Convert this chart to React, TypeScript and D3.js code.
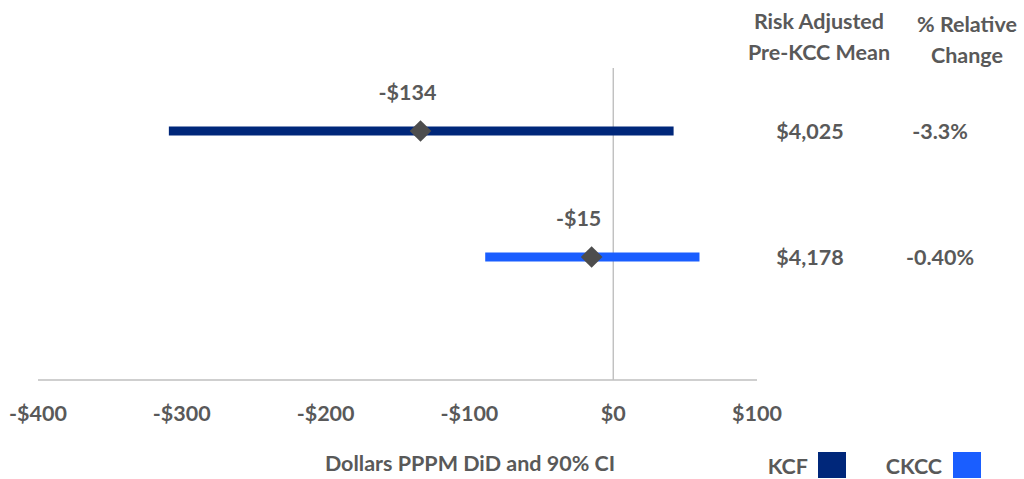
import React from "react";
import * as d3 from "d3";

const groups = ["KCF", "CKCC"];
const estimates = [-134, -15];
const lowerCI = [-309, -89];
const upperCI = [42, 60];
const preMeans = ["$4,025", "$4,178"];
const relChanges = ["-3.3%", "-0.40%"];
const groupColors = ["#00277a", "#1a5eff"];
const xTicks = [-400, -300, -200, -100, 0, 100];

const W = 1024;
const H = 479;
const FONT = "Lato, 'Open Sans', sans-serif";
const TEXT = "#595959";
const FS = 21.5;

const fmtDollar = (v: number) => (v < 0 ? "-$" : "$") + d3.format(",")(Math.abs(v));

export default function App() {
  const x = d3.scaleLinear().domain([-400, 100]).range([38, 757]);
  const y = d3.scalePoint<string>().domain(groups).range([131, 257]);
  const axisY = 380;
  const diamond = d3.symbol().type(d3.symbolDiamond2).size(300)();

  return (
    <svg
      width={W}
      height={H}
      style={{ position: "absolute", left: 0, top: 0, background: "#fff", display: "block" }}
      fontFamily={FONT}
      fontWeight="bold"
    >
      {/* zero reference line */}
      <line x1={x(0)} x2={x(0)} y1={68} y2={axisY} stroke="#a6a6a6" strokeWidth={1} />
      {/* horizontal axis */}
      <line x1={x(-400)} x2={x(100)} y1={axisY} y2={axisY} stroke="#bfbfbf" strokeWidth={1.5} />
      {xTicks.map((t) => (
        <text key={t} x={x(t)} y={421} textAnchor="middle" fontSize={FS} fill={TEXT}>
          {fmtDollar(t)}
        </text>
      ))}
      <text x={470} y={471} textAnchor="middle" fontSize={FS} fill={TEXT}>
        Dollars PPPM DiD and 90% CI
      </text>

      {/* confidence intervals and point estimates */}
      {groups.map((g, i) => {
        const cy = y(g) as number;
        return (
          <g key={g}>
            <rect
              x={x(lowerCI[i])}
              y={cy - 4.5}
              width={x(upperCI[i]) - x(lowerCI[i])}
              height={9}
              fill={groupColors[i]}
            />
            <path d={diamond as string} transform={`translate(${x(estimates[i])},${cy})`} fill="#4d4d4d" />
            <text x={x(estimates[i]) - 13} y={cy - 31} textAnchor="middle" fontSize={FS} fill={TEXT}>
              {fmtDollar(estimates[i])}
            </text>
            <text x={810} y={cy + 8} textAnchor="middle" fontSize={FS} fill={TEXT}>
              {preMeans[i]}
            </text>
            <text x={940} y={cy + 8} textAnchor="middle" fontSize={FS} fill={TEXT}>
              {relChanges[i]}
            </text>
          </g>
        );
      })}

      {/* table column headers */}
      <text x={819} y={29} textAnchor="middle" fontSize={FS} fill={TEXT}>Risk Adjusted</text>
      <text x={819} y={60} textAnchor="middle" fontSize={FS} fill={TEXT}>Pre-KCC Mean</text>
      <text x={967} y={32} textAnchor="middle" fontSize={FS} fill={TEXT}>% Relative</text>
      <text x={967} y={63} textAnchor="middle" fontSize={FS} fill={TEXT}>Change</text>

      {/* legend */}
      {[
        { label: groups[0], textRight: 808, boxX: 818 },
        { label: groups[1], textRight: 942, boxX: 953 },
      ].map((item, i) => (
        <g key={item.label}>
          <text x={item.textRight} y={474} textAnchor="end" fontSize={FS} fill={TEXT}>
            {item.label}
          </text>
          <rect x={item.boxX} y={452} width={28} height={26} fill={groupColors[i]} />
        </g>
      ))}
    </svg>
  );
}
